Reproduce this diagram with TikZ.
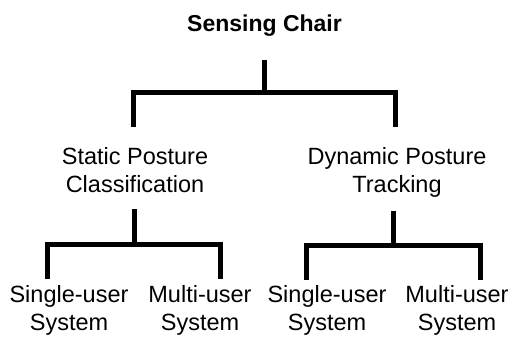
\documentclass[tikz,border=0pt]{standalone}
\usepackage{fontspec}
\setmainfont{Liberation Sans}
\begin{document}
\begin{tikzpicture}[x=1pt,y=-1pt,
  lbl/.style={inner sep=0pt,align=center,anchor=base,font=\fontsize{23.5}{28}\selectfont},
  rootlbl/.style={lbl,font=\fontsize{23}{28}\selectfont\bfseries},
  tree/.style={line width=5pt,line join=miter}]
\useasboundingbox (0,0) rectangle (515,337);
% nodes (anchor base = baseline of the last line)
\node[rootlbl] (root) at (264.5,32) {Sensing Chair};
\node[lbl] (spc) at (135,192.5) {Static Posture\\Classification};
\node[lbl] (dpt) at (397,192.5) {Dynamic Posture\\Tracking};
\node[lbl] (s1) at (69,330) {Single-user\\System};
\node[lbl] (m1) at (200,330) {Multi-user\\System};
\node[lbl] (s2) at (327,330) {Single-user\\System};
\node[lbl] (m2) at (457,330) {Multi-user\\System};
% connector end points
\coordinate (rootb) at (264.5,60);
\coordinate (rootj) at (264.5,92.5);
\coordinate (spct) at (133,127);
\coordinate (dptt) at (395,127);
\coordinate (spcb) at (134,209);
\coordinate (spcj) at (134,244.5);
\coordinate (s1t) at (47,279);
\coordinate (m1t) at (220,279);
\coordinate (dptb) at (393,211);
\coordinate (dptj) at (393,245);
\coordinate (s2t) at (306,280);
\coordinate (m2t) at (480,280);
% connectors
\draw[tree] (rootb) -- (rootj);
\draw[tree] (spct) |- (rootj) -| (dptt);
\draw[tree] (spcb) -- (spcj);
\draw[tree] (s1t) |- (spcj) -| (m1t);
\draw[tree] (dptb) -- (dptj);
\draw[tree] (s2t) |- (dptj) -| (m2t);
\end{tikzpicture}
\end{document}
